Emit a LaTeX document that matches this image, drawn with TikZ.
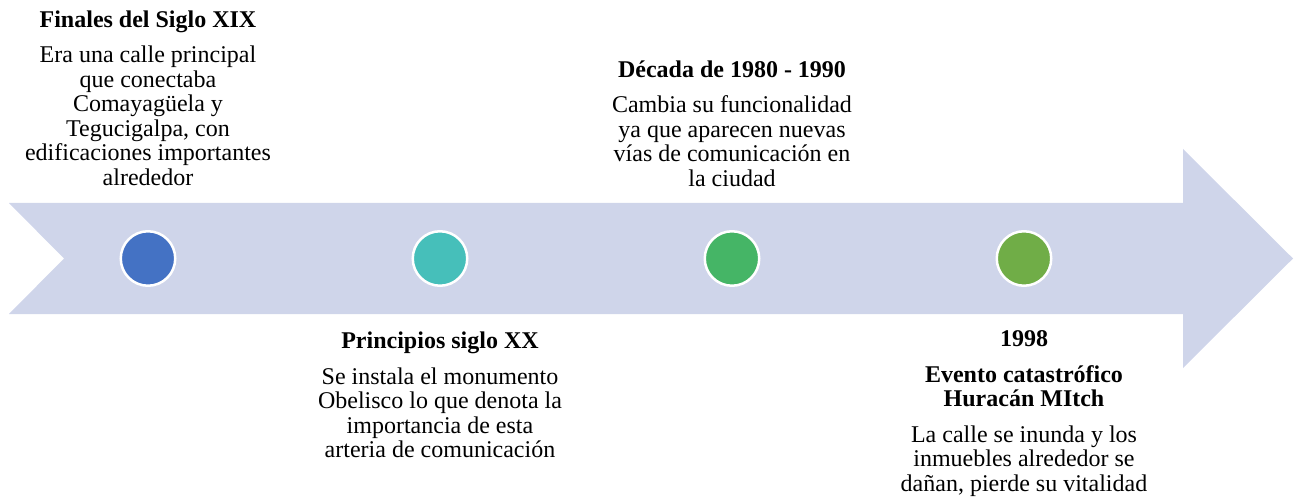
\documentclass[tikz,border=0pt]{standalone}
\usepackage{fontspec}
\setmainfont{Liberation Serif}
\usepackage{xcolor}
\definecolor{flecha}{HTML}{CFD5EA}
\definecolor{azul}{HTML}{4472C4}
\definecolor{turquesa}{HTML}{46BFBA}
\definecolor{verde}{HTML}{45B566}
\definecolor{oliva}{HTML}{70AD47}

\begin{document}
\begin{tikzpicture}[x=1pt,y=-1pt]
				\tikzstyle{every node}+=[inner sep=0pt]
				\tikzstyle{punto}=[circle, draw=white, line width=2.5pt, minimum size=54.5pt]
				\tikzstyle{hito}=[align=center, anchor=north, font=\fontsize{24}{24.5}\selectfont]
				\useasboundingbox (0,0) rectangle (1298,497);
				\fill [flecha] (9,203) -- (1183,203) -- (1183,149) -- (1293,258.5) -- (1183,368) -- (1183,314) -- (9,314) -- (64,258.5) -- cycle;
				\node [punto, fill=azul] (p1) at (148,258.5) {};
				\node [punto, fill=turquesa] (p2) at (440,258.5) {};
				\node [punto, fill=verde] (p3) at (732,258.5) {};
				\node [punto, fill=oliva] (p4) at (1024,258.5) {};
				\node [hito] (t1) at (148,10.6) {\textbf{Finales del Siglo XIX}\\[11pt]Era una calle principal\\que conectaba\\Comayagüela y\\Tegucigalpa, con\\edificaciones importantes\\alrededor};
				\node [hito] (t2) at (440,332) {\textbf{Principios siglo XX}\\[11pt]Se instala el monumento\\Obelisco lo que denota la\\importancia de esta\\arteria de comunicación};
				\node [hito] (t3) at (732,60.6) {\textbf{Década de 1980 - 1990}\\[11pt]Cambia su funcionalidad\\ya que aparecen nuevas\\vías de comunicación en\\la ciudad};
				\node [hito] (t4) at (1024,330.8) {\textbf{1998}\\[11pt]\textbf{Evento catastrófico}\\\textbf{Huracán MItch}\\[11pt]La calle se inunda y los\\inmuebles alrededor se\\dañan, pierde su vitalidad};
\end{tikzpicture}
\end{document}
